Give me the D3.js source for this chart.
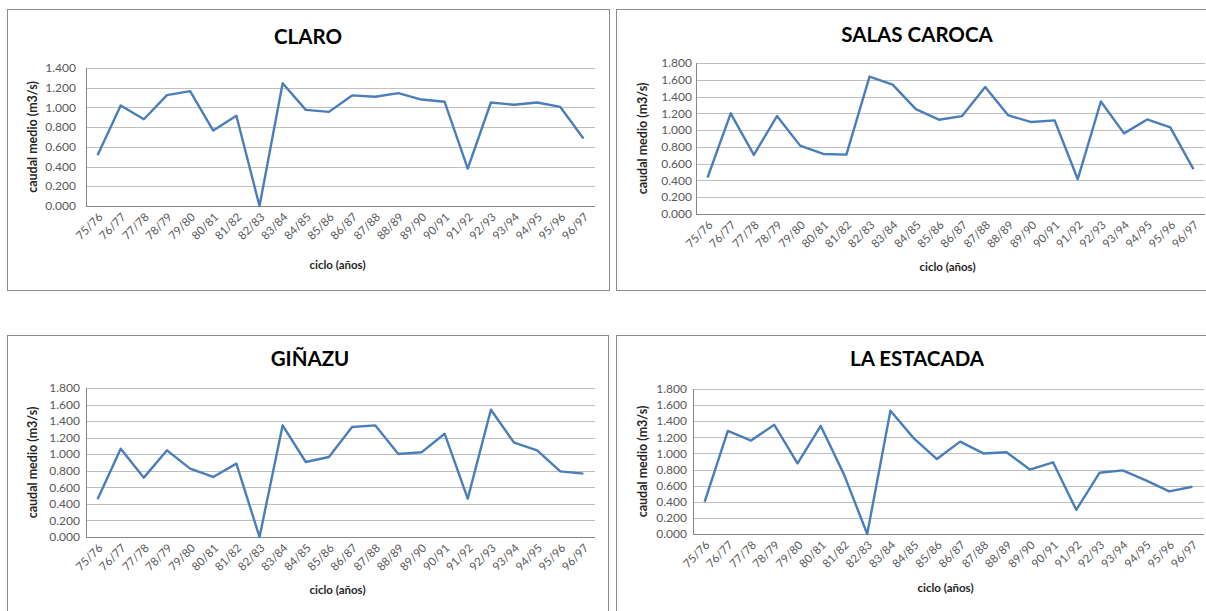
<!DOCTYPE html>
<html>
<head>
<meta charset="utf-8">
<script src="https://cdn.jsdelivr.net/npm/d3@7"></script>
<style>
  body { margin: 0; background: #fff; }
  text { font-family: Lato, "Open Sans", sans-serif; }
</style>
</head>
<body>
<svg id="chart" width="1206" height="611"></svg>
<script>
// ciclos hidrologicos
const cycles = ["75/76","76/77","77/78","78/79","79/80","80/81","81/82","82/83","83/84","84/85","85/86",
  "86/87","87/88","88/89","89/90","90/91","91/92","92/93","93/94","94/95","95/96","96/97"];

// caudal medio (m3/s) por estacion
const claro = [0.515,1.02,0.88,1.125,1.165,0.765,0.915,0.0,1.245,0.975,0.955,1.122,1.108,1.145,1.08,1.057,0.38,1.05,1.027,1.05,1.005,0.685];
const salasCaroca = [0.435,1.2,0.704,1.167,0.815,0.716,0.708,1.638,1.543,1.25,1.124,1.167,1.515,1.175,1.096,1.116,0.415,1.341,0.961,1.127,1.032,0.534];
const ginazu = [0.455,1.067,0.717,1.047,0.826,0.725,0.886,0.0,1.349,0.906,0.966,1.329,1.349,1.003,1.023,1.248,0.463,1.538,1.14,1.047,0.793,0.765];
const laEstacada = [0.40,1.28,1.16,1.355,0.877,1.342,0.74,0.0,1.53,1.19,0.93,1.147,1.0,1.014,0.80,0.89,0.30,0.76,0.79,0.665,0.53,0.586];

const yMaxClaro = 1.4;
const yMaxOthers = 1.8;

//layout of each panel (box + plot area)
const panels = [
  { title: "CLARO", values: claro, yMax: yMaxClaro,
    box: [7, 9, 602, 281], plot: [86, 68, 595, 206], titleX: 308, titleY: 44,
    yTitleX: 33, labelGap: 10, xTitleY: 269 },
  { title: "SALAS CAROCA", values: salasCaroca, yMax: yMaxOthers,
    box: [616, 9, 600, 281], plot: [696, 63, 1205, 214], titleX: 917, titleY: 42,
    yTitleX: 643, labelGap: 4, xTitleY: 271 },
  { title: "GIÑAZU", values: ginazu, yMax: yMaxOthers,
    box: [7, 335, 601, 290], plot: [86, 388, 595, 537], titleX: 310, titleY: 366,
    yTitleX: 33, labelGap: 6, xTitleY: 594 },
  { title: "LA ESTACADA", values: laEstacada, yMax: yMaxOthers,
    box: [616, 335, 600, 290], plot: [693, 389, 1204, 534], titleX: 917, titleY: 366,
    yTitleX: 643, labelGap: 6, xTitleY: 592 }
];

const svg = d3.select("#chart");
const fmt = d3.format(".3f");

panels.forEach((p) => {
  const g = svg.append("g");
  const [l, t, r, b] = p.plot;

  g.append("rect")
    .attr("x", p.box[0] + 0.5)
    .attr("y", p.box[1] + 0.5)
    .attr("width", p.box[2])
    .attr("height", p.box[3])
    .attr("fill", "#fff")
    .attr("stroke", "#8c8c8c")
    .attr("stroke-width", 1);

  const x = d3.scalePoint().domain(cycles).range([l, r]).padding(0.5);
  const y = d3.scaleLinear().domain([0, p.yMax]).range([b, t]);
  const ticks = d3.range(0, p.yMax + 0.001, 0.2);

  // gridlines
  g.append("g")
    .selectAll("line")
    .data(ticks)
    .join("line")
    .attr("x1", l)
    .attr("x2", r)
    .attr("y1", (d) => Math.round(y(d)) + 0.5)
    .attr("y2", (d) => Math.round(y(d)) + 0.5)
    .attr("stroke", (d) => (d === 0 ? "#868686" : "#bfbfbf"))
    .attr("stroke-width", 1.2);

  // y axis line
  g.append("line")
    .attr("x1", l + 0.5).attr("x2", l + 0.5)
    .attr("y1", t).attr("y2", b)
    .attr("stroke", "#868686");

  // y tick labels
  g.append("g")
    .selectAll("text")
    .data(ticks)
    .join("text")
    .attr("x", l - p.labelGap)
    .attr("y", (d) => y(d))
    .attr("dy", "0.35em")
    .attr("text-anchor", "end")
    .attr("font-size", "12px")
    .attr("fill", "#595959")
    .text((d) => fmt(d));

  // x tick labels
  g.append("g")
    .selectAll("text")
    .data(cycles)
    .join("text")
    .attr("transform", (d) => `translate(${x(d) + 3},${b + 9}) rotate(-45)`)
    .attr("text-anchor", "end")
    .attr("dy", "0.35em")
    .attr("font-size", "11.5px")
    .attr("fill", "#595959")
    .text((d) => d);

  // line
  const line = d3.line()
    .x((d, i) => x(cycles[i]))
    .y((d) => y(d));

  g.append("path")
    .datum(p.values)
    .attr("d", line)
    .attr("fill", "none")
    .attr("stroke", "#4a7ebb")
    .attr("stroke-width", 2.4)
    .attr("stroke-linejoin", "round");

  // titles
  g.append("text")
    .attr("x", p.titleX)
    .attr("y", p.titleY)
    .attr("text-anchor", "middle")
    .attr("font-size", "20.5px")
    .attr("font-weight", "700")
    .attr("fill", "#000")
    .text(p.title);

  g.append("text")
    .attr("transform", `translate(${p.yTitleX},${(t + b) / 2}) rotate(-90)`)
    .attr("text-anchor", "middle")
    .attr("dy", "0.35em")
    .attr("font-size", "12.5px")
    .attr("font-weight", "700")
    .attr("fill", "#262626")
    .text("caudal medio (m3/s)");

  g.append("text")
    .attr("x", (l + r) / 2 - 3)
    .attr("y", p.xTitleY)
    .attr("text-anchor", "middle")
    .attr("font-size", "11.5px")
    .attr("font-weight", "700")
    .attr("fill", "#262626")
    .text("ciclo (años)");
});
</script>
</body>
</html>
